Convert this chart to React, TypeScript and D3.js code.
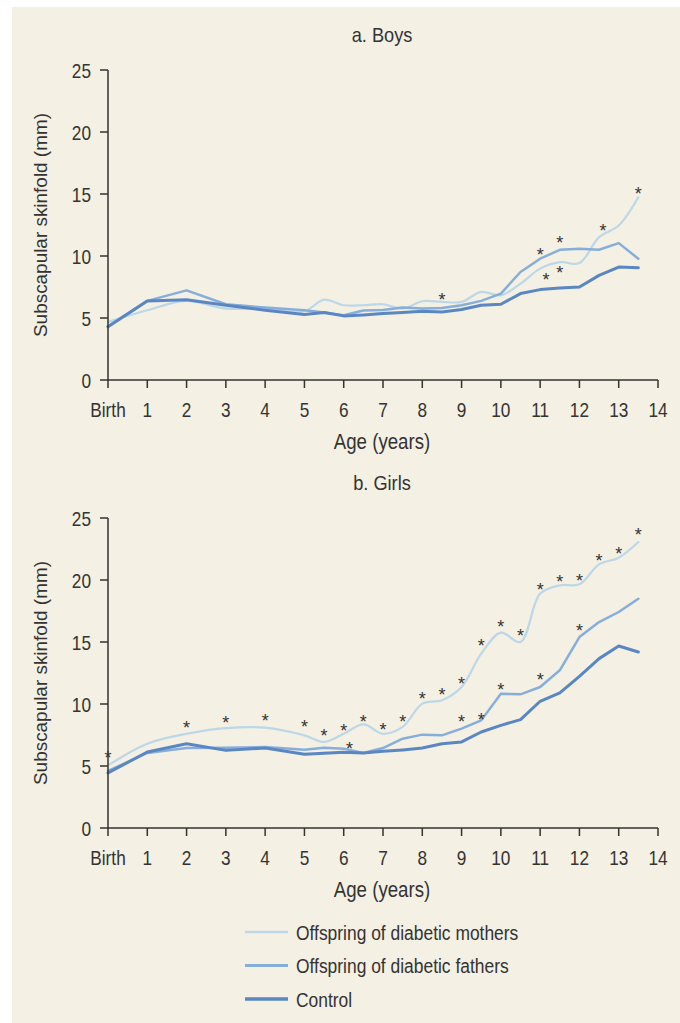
import React from "react";
import * as d3 from "d3";

const ages = [0, 1, 2, 3, 4, 5, 5.5, 6, 6.5, 7, 7.5, 8, 8.5, 9, 9.5, 10, 10.5, 11, 11.5, 12, 12.5, 13, 13.5];

const boysMothers = [4.69, 5.63, 6.38, 5.76, 5.76, 5.55, 6.48, 6.03, 6.03, 6.11, 5.76, 6.35, 6.3, 6.3, 7.1, 6.83, 7.77, 8.98, 9.51, 9.43, 11.52, 12.46, 14.74];
const boysFathers = [4.34, 6.38, 7.23, 6.11, 5.84, 5.63, 5.45, 5.22, 5.6, 5.65, 5.84, 5.76, 5.8, 6.03, 6.38, 6.97, 8.71, 9.78, 10.5, 10.58, 10.5, 11.04, 9.78];
const boysControl = [4.29, 6.38, 6.48, 6.03, 5.63, 5.28, 5.45, 5.17, 5.25, 5.36, 5.45, 5.55, 5.49, 5.68, 6.03, 6.11, 6.97, 7.29, 7.42, 7.5, 8.44, 9.11, 9.06];

const girlsMothers = [5.05, 6.8, 7.6, 8.06, 8.09, 7.47, 6.94, 7.6, 8.36, 7.6, 8.15, 10.03, 10.3, 11.37, 14.06, 15.75, 15.0, 18.9, 19.57, 19.65, 21.26, 21.8, 23.06];
const girlsFathers = [4.6, 6.05, 6.45, 6.48, 6.53, 6.32, 6.48, 6.4, 6.05, 6.45, 7.2, 7.53, 7.47, 8.01, 8.68, 10.83, 10.78, 11.37, 12.72, 15.4, 16.61, 17.42, 18.49];
const girlsControl = [4.44, 6.13, 6.8, 6.26, 6.45, 5.94, 6.02, 6.1, 6.05, 6.18, 6.3, 6.45, 6.8, 6.94, 7.74, 8.28, 8.74, 10.22, 10.89, 12.23, 13.66, 14.68, 14.19];

const boysStars: [number, number][] = [[8.5, 6.78], [11, 10.45], [11.5, 11.36], [11.15, 8.44], [11.5, 8.98], [12.6, 12.38], [13.5, 15.35]];
const girlsStars: [number, number][] = [
  [0, 6.0], [2, 8.41], [3, 8.82], [4, 8.95], [5, 8.49], [5.5, 7.8], [6, 8.2], [6.15, 6.75], [6.5, 8.9], [7, 8.23], [7.5, 8.9],
  [8, 10.75], [8.5, 11.1], [9, 11.96], [9.5, 15.0], [10, 16.56], [10.5, 15.86], [9, 8.9], [9.5, 9.09], [10, 11.45],
  [11, 19.57], [11.5, 20.19], [12, 20.3], [11, 12.26], [12, 16.2], [12.5, 21.85], [13, 22.45], [13.5, 24.0],
];

const xTickValues = d3.range(0, 15);
const xTickLabels = ["Birth", "1", "2", "3", "4", "5", "6", "7", "8", "9", "10", "11", "12", "13", "14"];
const yTickValues = [0, 5, 10, 15, 20, 25];

const seriesNames = ["Offspring of diabetic mothers", "Offspring of diabetic fathers", "Control"];
const seriesColors = ["#bcd7e8", "#87aedb", "#5a87c3"];
const seriesWidths = [2.2, 2.5, 3];
const seriesCurves = [d3.curveCatmullRom.alpha(0.5), d3.curveLinear, d3.curveLinear];

const FONT = "'Liberation Sans', Arial, sans-serif";
const TXT = "#333333";

const x = d3.scaleLinear().domain([0, 14]).range([108, 658]);

function NText({ x, y, sx = 0.82, fs = 21, anchor = "start", children }: { x: number; y: number; sx?: number; fs?: number; anchor?: string; children: React.ReactNode }) {
  return (
    <text transform={`translate(${x},${y}) scale(${sx},1)`} textAnchor={anchor} fontFamily={FONT} fontSize={fs} fill={TXT}>
      {children}
    </text>
  );
}

function Panel({ title, top, series, stars }: { title: string; top: number; series: number[][]; stars: [number, number][] }) {
  const y = d3.scaleLinear().domain([0, 25]).range([top + 310, top]);
  const y0 = y(0);
  const starFs = 18;
  return (
    <g>
      <NText x={382} y={top - 28} sx={0.91} fs={20} anchor="middle">
        {title}
      </NText>
      <text
        transform={`translate(47,${(top + y0) / 2}) rotate(-90)`}
        textAnchor="middle"
        fontFamily={FONT}
        fontSize={18}
        fill={TXT}
        textLength={224}
        lengthAdjust="spacingAndGlyphs"
      >
        Subscapular skinfold (mm)
      </text>
      {series.map((s, k) => {
        const line = d3
          .line<number>()
          .x((_, i) => x(ages[i]))
          .y((d) => y(d))
          .curve(seriesCurves[k]);
        return <path key={k} d={line(s) || ""} fill="none" stroke={seriesColors[k]} strokeWidth={seriesWidths[k]} strokeLinejoin="round" strokeLinecap="round" />;
      })}
      <line x1={x(0)} x2={x(0)} y1={y(25)} y2={y0} stroke={TXT} strokeWidth={1.5} />
      <line x1={x(0)} x2={x(14)} y1={y0} y2={y0} stroke={TXT} strokeWidth={1.5} />
      {yTickValues.map((v) => (
        <g key={v}>
          <line x1={x(0) - 8} x2={x(0)} y1={y(v)} y2={y(v)} stroke={TXT} strokeWidth={1.5} />
          <NText x={x(0) - 17} y={y(v) + 7.5} anchor="end">
            {v}
          </NText>
        </g>
      ))}
      {xTickValues.map((v, i) => (
        <g key={v}>
          <line x1={x(v)} x2={x(v)} y1={y0} y2={y0 + 8} stroke={TXT} strokeWidth={1.5} />
          <NText x={x(v)} y={y0 + 37} anchor="middle">
            {xTickLabels[i]}
          </NText>
        </g>
      ))}
      <NText x={382} y={y0 + 69} fs={22.5} sx={0.83} anchor="middle">
        Age (years)
      </NText>
      {stars.map(([a, v], i) => (
        <text key={i} x={x(a)} y={y(v) + starFs * 0.57} textAnchor="middle" fontFamily={FONT} fontSize={starFs} fill={TXT}>
          *
        </text>
      ))}
    </g>
  );
}

export default function App() {
  return (
    <svg width={680} height={1023} style={{ position: "absolute", left: 0, top: 0 }}>
      <rect x={12} y={7} width={668} height={1016} fill="#f4f0e3" />
      <Panel title="a. Boys" top={70} series={[boysMothers, boysFathers, boysControl]} stars={boysStars} />
      <Panel title="b. Girls" top={518} series={[girlsMothers, girlsFathers, girlsControl]} stars={girlsStars} />
      {seriesNames.map((n, k) => (
        <g key={n}>
          <line x1={245} x2={288} y1={932 + k * 33.5} y2={932 + k * 33.5} stroke={seriesColors[k]} strokeWidth={seriesWidths[k] + 0.5} />
          <NText x={296} y={932 + k * 33.5 + 7.5} sx={0.83}>
            {n}
          </NText>
        </g>
      ))}
    </svg>
  );
}
